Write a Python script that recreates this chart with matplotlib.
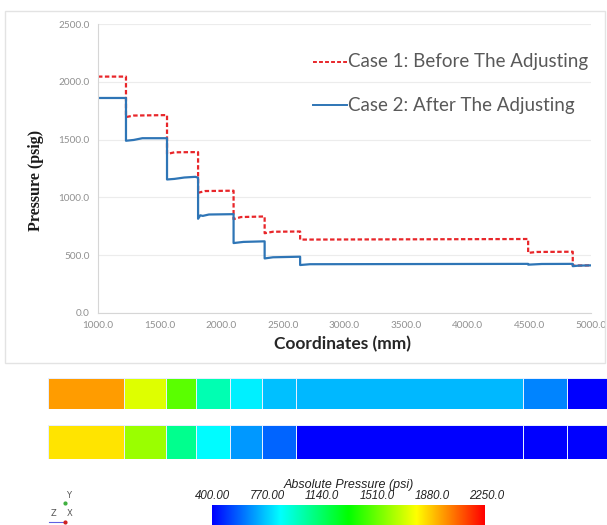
import numpy as np
import matplotlib.pyplot as plt
from matplotlib.colors import LinearSegmentedColormap, Normalize
from matplotlib.patches import Rectangle
from matplotlib.lines import Line2D

# Pressure along the line (coordinates in mm, pressure in psig)
coord_case1 = [1000, 1227, 1227, 1290, 1560, 1560, 1620, 1812, 1812, 1870, 2100, 2100, 2160,
               2352, 2352, 2420, 2640, 2640, 4490, 4490, 4560, 4852, 4852, 5000]
press_case1 = [2045, 2045, 1695, 1708, 1712, 1375, 1390, 1392, 1040, 1055, 1058, 812, 830,
               835, 690, 703, 705, 635, 640, 520, 528, 530, 410, 412]

coord_case2 = [1000, 1227, 1227, 1290, 1360, 1560, 1560, 1620, 1700, 1790, 1812, 1812, 1830,
               1850, 1900, 2100, 2100, 2180, 2352, 2352, 2420, 2640, 2640, 2720, 4490,
               4490, 4600, 4852, 4852, 4900, 5000]
press_case2 = [1860, 1860, 1490, 1497, 1512, 1512, 1155, 1160, 1172, 1178, 1170, 815, 845,
               840, 852, 855, 605, 615, 620, 472, 482, 487, 415, 422, 425,
               418, 424, 425, 405, 410, 412]

label_case1 = "Case 1: Before The Adjusting"
label_case2 = "Case 2: After The Adjusting"

# Contour strips (section edges in arbitrary length units, absolute pressure in psi)
contour_edges = [0, 76, 118, 148, 182, 214, 248, 475, 519, 559]
contour_case1 = [1963, 1727, 1487, 1001, 840, 752, 735, 640, 400]
contour_case2 = [1838, 1602, 1071, 862, 677, 585, 400, 405, 400]
legend_ticks = [400, 770, 1140, 1510, 1880, 2250]
legend_labels = ["400.00", "770.00", "1140.0", "1510.0", "1880.0", "2250.0"]

W, H = 607, 525
fig = plt.figure(figsize=(W / 100, H / 100), dpi=100)


def box(x0, y0, x1, y1):
    # pixel box (top-left origin) -> figure fraction rect
    return [x0 / W, 1 - y1 / H, (x1 - x0) / W, (y1 - y0) / H]


# light frame round the chart
fig.patches.append(Rectangle((5 / W, 1 - 363 / H), 600 / W, 352 / H, transform=fig.transFigure,
                             fill=False, edgecolor="#E3E3E3", linewidth=1.0))

ax = fig.add_axes(box(98, 24, 591, 313))
ax.plot(coord_case1, press_case1, color="#E8262A", linestyle=(0, (2.0, 1.1)), linewidth=1.6)
ax.plot(coord_case2, press_case2, color="#2E75B6", linewidth=1.6)
ax.set_xlim(1000, 5000)
ax.set_ylim(0, 2500)
ax.set_xticks(np.arange(1000, 5001, 500))
ax.set_yticks(np.arange(0, 2501, 500))
ax.xaxis.set_major_formatter(lambda v, p: f"{v:.1f}")
ax.yaxis.set_major_formatter(lambda v, p: f"{v:.1f}")
ax.tick_params(length=0, labelsize=7.2, labelcolor="#909090", pad=6)
for lab in ax.get_xticklabels() + ax.get_yticklabels():
    lab.set_fontfamily("Lato")
ax.grid(axis="y", color="#ECECEC", linewidth=0.8)
ax.set_axisbelow(True)
for s in ["top", "right"]:
    ax.spines[s].set_visible(False)
for s in ["left", "bottom"]:
    ax.spines[s].set_color("#D6D6D6")
ax.set_xlabel("Coordinates (mm)", fontsize=12.5, fontweight="bold", family="Lato",
              color="#262626")
ax.set_ylabel("Pressure (psig)", fontsize=11.5, fontweight="bold", family="Liberation Serif",
              color="#1A1A1A")
ax.xaxis.set_label_coords(0.495, -0.08)
ax.yaxis.set_label_coords(-0.11, 0.46)

# legend drawn as lines + text in figure pixels
for ypix, col, ls, txt in [(62, "#E8262A", (0, (2.0, 1.1)), label_case1),
                           (105, "#2E75B6", "-", label_case2)]:
    fig.add_artist(Line2D([313 / W, 347 / W], [1 - ypix / H] * 2, color=col, linestyle=ls,
                          linewidth=1.4))
    fig.text(348 / W, 1 - ypix / H, txt, fontsize=13.5, family="Lato", color="#595959",
             va="center", ha="left")

# contour strips
cmap = LinearSegmentedColormap.from_list("ansys", ["#0000FF", "#00FFFF", "#00FF00",
                                                   "#FFFF00", "#FF0000"])
norm = Normalize(400, 2250)
for (y0, y1), vals in [((378, 409), contour_case1), ((425, 459), contour_case2)]:
    cax = fig.add_axes(box(48, y0, 607, y1))
    cax.pcolormesh(contour_edges, [0, 1], [vals], cmap=cmap, norm=norm,
                   edgecolor="#E6EEFF", linewidth=0.5)
    cax.set_xlim(0, 559)
    cax.set_ylim(0, 1)
    cax.axis("off")

# colour legend
lax = fig.add_axes(box(212, 505, 485, 528))
grad = np.linspace(400, 2250, 256)[None, :]
lax.imshow(grad, aspect="auto", cmap=cmap, norm=norm, extent=[400, 2250, 0, 1])
lax.set_xlim(400, 2250)
lax.axis("off")
tick_y = 1 - 496 / H
for v, t in zip(legend_ticks, legend_labels):
    xf = (212 + (v - 400) / 1850 * 275) / W
    fig.text(xf, tick_y, t, ha="center", va="center", fontsize=8.3, style="italic",
             family="Liberation Sans", color="#222222")
fig.text(349 / W, 1 - 485 / H, "Absolute Pressure (psi)", ha="center", va="center",
         fontsize=9, style="italic", family="Liberation Sans", color="#222222")

# small axis triad
fig.add_artist(Line2D([49 / W, 65 / W], [1 - 522 / H] * 2, color="#6060E0", linewidth=0.8))
fig.add_artist(Line2D([65 / W], [1 - 522 / H], marker="o", markersize=2, color="#D02020"))
fig.add_artist(Line2D([65 / W], [1 - 503 / H], marker="o", markersize=2, color="#40B040"))
for x, y, t in [(69, 495, "Y"), (53, 513, "Z"), (70, 513, "X")]:
    fig.text(x / W, 1 - y / H, t, fontsize=6, color="#555555", ha="center", va="center")

fig.savefig("out.png", dpi=100)
